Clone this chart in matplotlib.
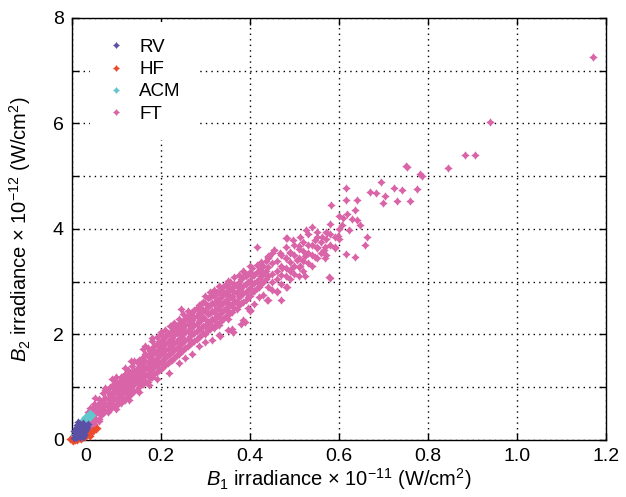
import matplotlib
matplotlib.use("Agg")
import matplotlib.pyplot as plt
import matplotlib.transforms as mtransforms
from matplotlib.path import Path

plt.rcParams['font.family'] = ['Liberation Sans', 'DejaVu Sans']
plt.rcParams['mathtext.fontset'] = 'custom'
plt.rcParams['mathtext.rm'] = 'Liberation Sans'
plt.rcParams['mathtext.it'] = 'Liberation Sans:italic'

# ---- data (x in 1e-11 W/cm2, y in 1e-12 W/cm2) ----
rv_x = [0.004, 0.006, 0.008, 0.010, 0.010, 0.012, 0.012, 0.014, 0.015, 0.016, 0.018, 0.018,
        0.020, 0.020, 0.022, 0.022, 0.024, 0.025, 0.026, 0.028, 0.028, 0.030, 0.030, 0.032,
        0.034, 0.035, 0.008, 0.005, 0.013, 0.017, 0.024, 0.027]
rv_y = [0.04, 0.10, 0.06, 0.14, 0.22, 0.05, 0.28, 0.10, 0.18, 0.24, 0.08, 0.30,
        0.14, 0.22, 0.10, 0.28, 0.18, 0.32, 0.12, 0.22, 0.28, 0.16, 0.26, 0.20,
        0.24, 0.30, 0.18, 0.16, 0.34, 0.05, 0.06, 0.10]

hf_x = [0.000, 0.003, 0.006, 0.008, 0.010, 0.012, 0.015, 0.018, 0.020, 0.022, 0.025, 0.028,
        0.030, 0.033, 0.035, 0.038, 0.040, 0.043, 0.045, 0.048, 0.050, 0.053, 0.056, 0.012,
        0.020, 0.030, 0.040, -0.004, 0.002]
hf_y = [0.00, 0.01, 0.00, 0.03, 0.01, 0.03, 0.04, 0.03, 0.06, 0.05, 0.08, 0.07,
        0.10, 0.09, 0.12, 0.11, 0.15, 0.14, 0.17, 0.16, 0.19, 0.20, 0.23, 0.00,
        0.02, 0.05, 0.08, 0.01, -0.02]

acm_x = [0.004, 0.008, 0.012, 0.015, 0.018, 0.020, 0.024, 0.026, 0.028, 0.030, 0.033, 0.035,
         0.038, 0.040, 0.042, 0.045, 0.002, 0.006]
acm_y = [0.10, 0.18, 0.24, 0.26, 0.30, 0.34, 0.36, 0.40, 0.33, 0.44, 0.38, 0.48,
         0.42, 0.50, 0.45, 0.47, 0.03, 0.02]

# FT dense band, listed as (x, [y values]) columns
ft_cols = [
    (0.020, [0.12, 0.25]), (0.025, [0.20, 0.35]), (0.030, [0.18, 0.30, 0.42]),
    (0.035, [0.28, 0.40, 0.52]), (0.040, [0.25, 0.36, 0.50, 0.60]), (0.045, [0.32, 0.45, 0.58]),
    (0.050, [0.30, 0.42, 0.55, 0.68]), (0.055, [0.38, 0.50, 0.62]), (0.060, [0.40, 0.55, 0.70, 0.78]),
    (0.065, [0.48, 0.60, 0.72]), (0.070, [0.50, 0.62, 0.75, 0.88]), (0.075, [0.55, 0.68, 0.80, 0.95]),
    (0.080, [0.52, 0.65, 0.78, 0.90]), (0.085, [0.60, 0.72, 0.85, 1.00]), (0.090, [0.62, 0.75, 0.88, 1.02]),
    (0.095, [0.66, 0.80, 0.92, 1.05]), (0.100, [0.65, 0.78, 0.90, 1.02, 1.12]),
    (0.105, [0.72, 0.85, 0.98, 1.10]), (0.110, [0.70, 0.82, 0.95, 1.08, 1.20]),
    (0.115, [0.78, 0.90, 1.02, 1.15]), (0.120, [0.76, 0.88, 1.00, 1.12, 1.25]),
    (0.125, [0.82, 0.95, 1.08, 1.20, 1.32]), (0.130, [0.85, 0.98, 1.10, 1.22]),
    (0.135, [0.90, 1.02, 1.15, 1.28, 1.40]), (0.140, [0.92, 1.05, 1.18, 1.30]),
    (0.145, [0.95, 1.10, 1.22, 1.35, 1.48]), (0.150, [1.00, 1.12, 1.25, 1.38, 1.52]),
    (0.155, [1.05, 1.18, 1.30, 1.42]), (0.160, [1.05, 1.20, 1.32, 1.45, 1.58, 1.72]),
    (0.165, [1.12, 1.25, 1.38, 1.50, 1.62]), (0.170, [1.10, 1.22, 1.35, 1.48, 1.60, 1.75]),
    (0.175, [1.18, 1.30, 1.42, 1.55, 1.68]), (0.180, [1.20, 1.35, 1.48, 1.60, 1.72, 1.88]),
    (0.185, [1.25, 1.38, 1.50, 1.65, 1.78]), (0.190, [1.28, 1.42, 1.55, 1.68, 1.82, 1.95]),
    (0.195, [1.32, 1.45, 1.60, 1.72, 1.85]), (0.200, [1.35, 1.48, 1.62, 1.75, 1.88, 2.00]),
    (0.205, [1.38, 1.52, 1.65, 1.80, 1.92]), (0.210, [1.42, 1.55, 1.70, 1.82, 1.95, 2.08]),
    (0.215, [1.45, 1.60, 1.72, 1.86, 2.00]), (0.220, [1.50, 1.62, 1.76, 1.90, 2.02, 2.15]),
    (0.225, [1.52, 1.66, 1.80, 1.94, 2.06]), (0.230, [1.55, 1.70, 1.84, 1.98, 2.10, 2.22]),
    (0.235, [1.60, 1.74, 1.88, 2.02, 2.15]), (0.240, [1.62, 1.78, 1.92, 2.05, 2.18, 2.30]),
    (0.245, [1.68, 1.82, 1.95, 2.10, 2.24]), (0.250, [1.70, 1.85, 2.00, 2.12, 2.26, 2.38]),
    (0.255, [1.75, 1.90, 2.04, 2.18, 2.30]), (0.260, [1.78, 1.92, 2.06, 2.20, 2.34, 2.45]),
    (0.265, [1.82, 1.96, 2.10, 2.25, 2.38]), (0.270, [1.85, 2.00, 2.14, 2.28, 2.42]),
    (0.275, [1.88, 2.02, 2.18, 2.32, 2.46]), (0.280, [1.92, 2.06, 2.20, 2.35, 2.50]),
    (0.285, [1.95, 2.10, 2.25, 2.40, 2.55]), (0.290, [1.98, 2.12, 2.28, 2.42, 2.58]),
    (0.295, [2.02, 2.16, 2.32, 2.46, 2.62]), (0.300, [2.00, 2.15, 2.30, 2.45, 2.60, 2.72]),
    (0.305, [2.08, 2.22, 2.38, 2.52, 2.68]), (0.310, [2.10, 2.25, 2.40, 2.55, 2.70]),
    (0.315, [1.90, 2.15, 2.30, 2.45, 2.60, 2.75]), (0.320, [2.12, 2.28, 2.42, 2.58, 2.72, 2.85]),
    (0.325, [2.20, 2.35, 2.50, 2.65, 2.80]), (0.330, [1.98, 2.18, 2.32, 2.48, 2.62, 2.78, 2.92]),
    (0.335, [2.25, 2.40, 2.55, 2.70, 2.85]), (0.340, [2.30, 2.45, 2.60, 2.75, 2.90]),
    (0.345, [2.35, 2.50, 2.65, 2.80, 2.95]), (0.350, [2.08, 2.30, 2.45, 2.60, 2.75, 2.90, 3.02]),
    (0.355, [2.40, 2.55, 2.70, 2.85, 3.00]), (0.360, [2.10, 2.42, 2.58, 2.72, 2.88]),
    (0.365, [2.50, 2.65, 2.80, 2.95, 3.08]), (0.370, [2.48, 2.62, 2.78, 2.92]),
    (0.375, [2.55, 2.70, 2.85, 3.00, 3.12]), (0.380, [2.20, 2.60, 2.75, 2.90, 3.05]),
    (0.385, [2.28, 2.62, 2.78, 2.92, 3.08, 3.20]), (0.390, [2.65, 2.80, 2.95, 3.10]),
    (0.395, [2.50, 2.70, 2.85, 3.00, 3.15]), (0.400, [2.45, 2.72, 2.88, 3.02, 3.18, 3.30]),
    (0.405, [2.80, 2.95, 3.10, 3.25]), (0.410, [2.58, 2.82, 2.98, 3.12]),
    (0.415, [2.88, 3.02, 3.18, 3.32, 3.65]), (0.420, [2.70, 2.90, 3.05, 3.20]),
    (0.425, [2.95, 3.10, 3.25, 3.38]), (0.430, [2.75, 3.00, 3.15, 3.30]),
    (0.435, [3.05, 3.20, 3.40]), (0.440, [2.65, 2.90, 3.10, 3.28, 3.45]),
    (0.450, [2.85, 3.00, 3.15, 3.35, 3.55]), (0.460, [2.82, 3.05, 3.20, 3.40]),
    (0.470, [2.65, 2.95, 3.12, 3.30, 3.50]), (0.480, [2.90, 3.10, 3.25, 3.45, 3.65]),
    (0.490, [3.05, 3.20, 3.38, 3.55]), (0.500, [3.15, 3.30, 3.50, 3.70]),
    (0.510, [3.10, 3.28, 3.45, 3.62]), (0.520, [3.20, 3.40, 3.58, 3.75]),
    (0.530, [3.35, 3.55, 3.90]), (0.540, [3.30, 3.50, 3.70]),
    (0.550, [3.45, 3.65, 3.85]), (0.560, [3.55, 3.75]),
    (0.570, [3.50, 3.80, 3.95]), (0.580, [3.70, 3.90, 4.10]),
    (0.590, [3.65, 3.85]), (0.600, [3.80, 4.00, 4.25]),
]

# FT points on the ragged upper and lower edges of the band
ft_ex = [0.074, 0.100, 0.119, 0.140, 0.164, 0.180, 0.200, 0.225, 0.263, 0.310, 0.333, 0.355,
         0.387, 0.422, 0.440, 0.454, 0.483, 0.060, 0.083, 0.100, 0.128, 0.150, 0.173, 0.190,
         0.218, 0.240, 0.254, 0.270, 0.285, 0.300, 0.333, 0.362, 0.389, 0.400, 0.438, 0.460,
         0.483, 0.052, 0.090, 0.132, 0.245]
ft_ey = [0.99, 1.20, 1.36, 1.50, 1.77, 1.93, 2.05, 2.18, 2.37, 2.80, 2.90, 3.00,
         3.19, 3.22, 3.47, 3.60, 3.83, 0.35, 0.57, 0.58, 0.76, 0.90, 1.04, 1.15,
         1.27, 1.45, 1.55, 1.62, 1.77, 1.85, 1.96, 2.05, 2.24, 2.46, 2.65, 2.81,
         2.90, 0.80, 1.15, 1.50, 2.48]

# FT scattered points in the upper part of the cloud
ft_sx = [1.171, 0.939, 0.883, 0.906, 0.844, 0.751, 0.753, 0.783, 0.787, 0.695, 0.670, 0.683,
         0.703, 0.700, 0.723, 0.742, 0.731, 0.759, 0.775, 0.615, 0.616, 0.640, 0.581, 0.617,
         0.636, 0.630, 0.640, 0.647, 0.608, 0.606, 0.622, 0.597, 0.662, 0.658, 0.615, 0.636,
         0.591, 0.580, 0.569, 0.566, 0.561, 0.572, 0.550, 0.539, 0.527, 0.512, 0.546, 0.531,
         0.481, 0.496, 0.511, 0.467, 0.490, 0.454, 0.441, 0.550, 0.569, 0.524, 0.505, 0.482,
         0.545, 0.524, 0.578, 0.512, 0.494, 0.471, 0.227, 0.265, 0.288, 0.362]
ft_sy = [7.25, 6.03, 5.40, 5.40, 5.15, 5.19, 5.17, 5.04, 5.00, 4.89, 4.70, 4.68,
         4.63, 4.49, 4.78, 4.73, 4.52, 4.52, 4.75, 4.77, 4.54, 4.54, 4.45, 4.28,
         4.35, 4.18, 4.17, 4.08, 4.20, 4.08, 3.98, 3.87, 3.85, 3.70, 3.53, 3.46,
         3.63, 3.07, 3.66, 3.60, 3.85, 3.92, 3.95, 4.03, 3.98, 3.85, 3.79, 3.70,
         3.83, 3.79, 3.68, 3.54, 3.57, 3.60, 3.49, 3.63, 3.44, 3.48, 3.41, 3.44,
         3.46, 3.10, 3.08, 3.29, 3.25, 3.25, 2.16, 2.35, 2.50, 2.05]

x_ticks = [0, 0.2, 0.4, 0.6, 0.8, 1.0, 1.2]
x_labels = ['0', '0.2', '0.4', '0.6', '0.8', '1.0', '1.2']
y_ticks = [0, 1, 2, 3, 4, 5, 6, 7, 8]
y_labels = ['0', '', '2', '', '4', '', '6', '', '8']

colors = {'RV': '#5a51a6', 'HF': '#ee4a2c', 'ACM': '#62c7cc', 'FT': '#d964a8'}

ft_x = [c[0] for c in ft_cols for _ in c[1]] + ft_ex + ft_sx
ft_y = [v for c in ft_cols for v in c[1]] + ft_ey + ft_sy

# fat four-pointed star, like the blobby markers of the original
star = Path([(0, 1), (0.42, 0.42), (1, 0), (0.42, -0.42), (0, -1),
             (-0.42, -0.42), (-1, 0), (-0.42, 0.42), (0, 1)], closed=True)

fig = plt.figure(figsize=(6.26, 4.97), dpi=100)
ax = fig.add_axes([0.115, 0.115, 0.853, 0.849])

ms = 36
ax.scatter(ft_x, ft_y, s=ms, marker=star, color=colors['FT'], linewidths=0, clip_on=False, zorder=3)
ax.scatter(acm_x, acm_y, s=ms, marker=star, color=colors['ACM'], linewidths=0, clip_on=False, zorder=4)
ax.scatter(hf_x, hf_y, s=ms, marker=star, color=colors['HF'], linewidths=0, clip_on=False, zorder=5)
ax.scatter(rv_x, rv_y, s=ms, marker=star, color=colors['RV'], linewidths=0, clip_on=False, zorder=6)

# legend proxies in the order of the original; white box without a frame hides the grid
handles = []
for name in ['RV', 'HF', 'ACM', 'FT']:
    h, = ax.plot([], [], linestyle='none', marker=star, markersize=5,
                 color=colors[name], markeredgewidth=0, label=name)
    handles.append(h)
leg = ax.legend(handles=handles, loc='upper left', frameon=True, fontsize=13.5,
                bbox_to_anchor=(0.034, 0.991), handletextpad=0.72, labelspacing=0.28,
                handlelength=1.0, borderaxespad=0.0, borderpad=0.9,
                fancybox=False, framealpha=1, facecolor='white', edgecolor='none')
leg.set_zorder(7)

ax.set_xlim(0, 1.2)
ax.set_ylim(0, 8)
ax.set_xticks(x_ticks)
ax.set_xticklabels(x_labels)
ax.set_yticks(y_ticks)
ax.set_yticklabels(y_labels)
ax.tick_params(direction='in', length=5, width=1, top=True, right=True,
               labelsize=14, pad=6, colors='black')
# the "0" on the x axis sits a little right of the corner in the original
lab0 = ax.get_xticklabels()[0]
lab0.set_transform(lab0.get_transform() + mtransforms.ScaledTranslation(14 / 100, 0, fig.dpi_scale_trans))

ax.grid(True, color='black', linestyle=(0, (1, 3)), linewidth=1.0)
for sp in ax.spines.values():
    sp.set_linewidth(1.0)

ax.set_xlabel(r'$B_1$ irradiance $\times$ 10$^{-11}$ (W/cm$^2$)', fontsize=14.5, labelpad=1)
ax.set_ylabel(r'$B_2$ irradiance $\times$ 10$^{-12}$ (W/cm$^2$)', fontsize=14.5, labelpad=14)

fig.savefig('out.png', dpi=100)
